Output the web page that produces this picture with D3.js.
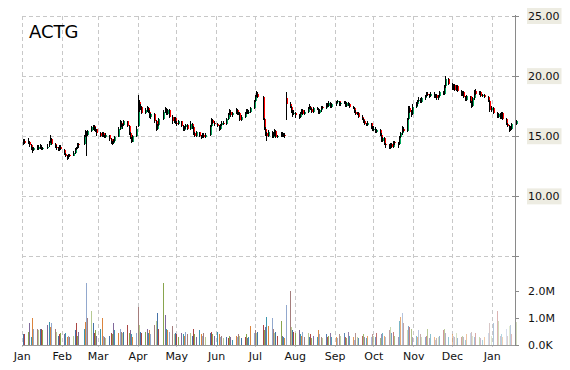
<!DOCTYPE html>
<html><head><meta charset="utf-8">
<script src="https://cdn.jsdelivr.net/npm/d3@7"></script>
<style>body{margin:0;background:#fff}svg{display:block}</style>
</head><body>
<svg id="chart" width="570" height="370"></svg>
<script>
const ticker = "ACTG";
const firstDay = "2014-01-02";
const lastDay = "2015-01-20";
const holidays = ["2014-01-20","2014-02-17","2014-04-18","2014-05-26","2014-07-04","2014-09-01","2014-11-27","2014-12-25","2015-01-01","2015-01-19"];
// [open, high, low, close] per trading day
const ohlc = [
// Jan
[14.3,14.7,14.2,14.5],[14.6,14.7,14.3,14.4],[14.4,14.8,14.3,14.6],[14.5,14.6,14.1,14.2],[14.2,14.3,13.8,14.0],
[14.0,14.1,13.6,13.8],[13.8,14.1,13.7,14.0],[14.1,14.2,13.8,13.9],[13.9,14.2,13.8,14.1],[14.0,14.3,13.9,14.2],
[14.1,14.2,13.8,13.9],[13.9,14.1,13.8,14.0],
[14.0,14.3,13.9,14.1],[14.2,14.6,14.1,14.5],[14.4,15.1,14.4,14.8],[14.7,14.8,14.2,14.3],
[14.3,14.4,14.0,14.1],[14.1,14.2,13.8,14.0],[14.0,14.1,13.7,13.8],[13.8,14.2,13.7,14.1],[14.1,14.2,13.8,13.9],
// Feb
[13.8,13.9,13.4,13.5],[13.5,13.6,13.2,13.3],[13.3,13.4,13.0,13.2],[13.2,13.5,13.1,13.4],[13.4,13.5,13.2,13.3],
[13.3,13.7,13.3,13.6],[13.6,14.0,13.5,13.9],[13.9,14.1,13.8,14.0],[14.0,14.4,13.9,14.3],[14.3,14.4,14.0,14.2],
[14.3,15.1,14.2,15.0],[15.0,15.5,14.9,15.3],[15.3,15.4,13.3,15.1],[15.1,15.5,15.0,15.4],
[15.4,15.8,15.3,15.7],[15.7,15.9,15.5,15.8],[15.8,15.9,15.4,15.5],[15.5,15.7,15.3,15.6],[15.6,15.6,15.0,15.2],
// Mar
[15.2,15.3,14.9,15.0],[15.0,15.3,14.9,15.2],[15.2,15.3,14.9,15.0],[15.0,15.1,14.8,14.9],[14.9,15.2,14.8,15.1],
[15.1,15.1,14.6,14.7],[14.7,14.8,14.3,14.5],[14.5,14.6,14.2,14.4],[14.4,14.7,14.3,14.6],[14.6,15.0,14.5,14.9],
[14.9,15.7,14.9,15.6],[15.6,16.3,15.5,16.1],[16.1,16.2,15.7,15.8],[15.8,16.0,15.6,15.9],[15.9,16.3,15.8,16.2],
[16.2,16.2,15.7,15.8],[15.8,15.9,15.1,15.2],[15.2,15.3,14.7,14.8],[14.8,14.9,14.4,14.5],[14.5,15.1,14.5,15.0],
[15.0,15.8,14.9,15.6],
// Apr
[15.8,18.4,15.7,17.8],[17.8,18.0,17.0,17.2],[17.2,17.6,17.1,17.4],[17.4,17.5,16.8,16.9],
[16.9,17.3,16.8,17.1],[17.1,17.5,17.0,17.3],[17.3,17.4,16.9,17.0],[17.0,17.1,16.5,16.6],[16.6,16.9,16.4,16.8],
[16.8,16.9,16.1,16.2],[16.2,16.3,15.4,15.6],[15.6,16.0,15.5,15.9],[15.9,16.5,15.8,16.4],
[16.4,17.1,16.3,17.0],[17.0,17.4,16.9,17.2],[17.2,17.3,16.7,16.8],[16.8,17.2,16.7,17.1],[17.1,17.2,16.5,16.6],
[16.6,16.7,16.0,16.2],[16.2,16.6,16.1,16.5],[16.5,16.6,16.0,16.1],
// May
[16.1,16.2,15.8,16.0],[16.0,16.3,15.9,16.2],
[16.2,16.2,15.7,15.8],[15.8,15.9,15.4,15.5],[15.5,15.8,15.4,15.7],[15.7,16.0,15.6,15.9],[15.9,16.0,15.5,15.6],
[15.6,16.2,15.5,16.0],[16.0,16.1,15.6,15.7],[15.7,15.8,15.1,15.2],[15.2,15.3,14.9,15.0],[15.0,15.4,14.9,15.3],
[15.3,15.3,14.9,15.0],[15.0,15.1,14.7,14.9],[14.9,15.2,14.8,15.1],[15.1,15.2,14.8,14.9],[14.9,15.2,14.8,15.1],
[15.1,15.9,15.0,15.8],[15.8,16.5,15.7,16.3],[16.3,16.4,16.0,16.1],[16.1,16.2,15.8,16.0],
// Jun
[16.0,16.1,15.7,15.8],[15.8,15.9,15.4,15.6],[15.6,16.0,15.5,15.9],[15.9,16.2,15.8,16.1],[16.1,16.2,15.9,16.0],
[16.0,16.5,15.9,16.4],[16.4,16.9,16.3,16.8],[16.8,17.2,16.7,17.0],[17.0,17.1,16.6,16.7],[16.7,17.0,16.6,16.9],
[16.9,17.3,16.8,17.1],[17.1,17.2,16.7,16.8],[16.8,17.0,16.7,16.9],[16.9,17.0,16.2,16.3],[16.3,16.7,16.2,16.6],
[16.6,17.0,16.5,16.9],[16.9,17.2,16.8,17.1],[17.1,17.2,16.8,16.9],[16.9,17.1,16.8,17.0],[17.0,17.4,16.9,17.3],
[17.3,18.0,17.2,17.9],
// Jul
[17.9,18.4,17.8,18.3],[18.3,18.7,18.2,18.5],[18.5,18.6,18.1,18.2],
[18.2,18.3,16.3,16.4],[16.4,16.5,15.5,15.6],[15.6,15.7,15.0,15.2],[15.2,15.3,14.6,15.0],[15.0,15.5,14.9,15.3],
[15.3,15.4,14.8,14.9],[14.9,15.3,14.8,15.1],[15.1,15.6,15.0,15.4],[15.4,15.5,14.8,14.9],[14.9,15.1,14.8,15.0],
[15.0,15.3,14.9,15.2],[15.2,15.3,14.9,15.0],[15.0,15.2,14.9,15.1],[15.1,15.2,14.8,15.0],[18.1,18.6,16.3,17.6],
[17.6,17.8,17.3,17.4],[17.4,17.5,16.9,17.0],[17.0,17.1,16.6,16.8],[16.8,17.1,16.7,16.9],
// Aug
[16.9,17.0,16.5,16.7],
[16.7,16.8,16.4,16.6],[16.6,17.0,16.5,16.9],[16.9,17.2,16.8,17.1],[17.1,17.2,16.7,16.8],[16.8,17.1,16.7,17.0],
[17.0,17.4,16.9,17.3],[17.3,17.6,17.2,17.4],[17.4,17.5,17.1,17.2],[17.2,17.3,16.9,17.0],[17.0,17.4,16.9,17.3],
[17.3,17.4,17.1,17.2],[17.2,17.3,16.8,16.9],[16.9,17.2,16.8,17.1],[17.1,17.5,17.0,17.4],[17.4,17.5,17.2,17.3],
[17.3,17.7,17.2,17.6],[17.6,17.7,17.4,17.5],[17.5,17.9,17.4,17.7],[17.7,17.8,17.3,17.4],[17.4,17.7,17.3,17.6],
// Sep
[17.6,17.9,17.5,17.8],[17.8,18.0,17.7,17.9],[17.9,17.9,17.5,17.6],[17.6,17.8,17.5,17.7],
[17.7,17.9,17.6,17.8],[17.8,17.9,17.4,17.5],[17.5,17.8,17.4,17.7],[17.7,17.8,17.5,17.6],[17.6,17.7,17.3,17.4],
[17.4,17.5,17.2,17.3],[17.3,17.4,16.9,17.0],[17.0,17.1,16.7,16.8],[16.8,17.0,16.7,16.9],[16.9,17.0,16.5,16.6],
[16.6,16.7,16.3,16.4],[16.4,16.5,16.1,16.2],[16.2,16.3,15.9,16.0],[16.0,16.1,15.8,15.9],[15.9,16.2,15.8,16.1],
[16.1,16.1,15.6,15.7],[15.7,15.8,15.4,15.5],
// Oct
[15.5,15.8,15.4,15.6],[15.6,15.7,15.2,15.3],[15.3,15.6,15.2,15.5],
[15.5,15.6,15.0,15.1],[15.1,15.2,14.5,14.6],[14.6,14.9,14.5,14.8],[14.8,14.9,14.2,14.3],[14.3,14.4,14.0,14.2],
[14.2,14.3,13.9,14.0],[14.0,14.4,13.9,14.3],[14.3,14.4,14.0,14.1],[14.1,14.6,14.0,14.5],[14.5,14.6,14.2,14.4],
[14.4,14.5,14.0,14.3],[14.3,15.0,14.2,14.9],[14.9,15.3,14.8,15.2],[15.2,15.8,15.1,15.6],[15.6,15.7,15.3,15.4],
[15.4,16.5,15.3,16.4],[16.4,17.5,16.3,17.3],[17.3,17.5,16.9,17.0],[17.0,17.1,16.6,16.8],[16.8,17.6,16.7,17.4],
// Nov
[17.4,17.8,17.3,17.6],[17.6,18.0,17.5,17.9],[17.9,18.2,17.8,18.0],[18.0,18.1,17.7,17.8],[17.8,18.2,17.7,18.1],
[18.1,18.4,18.0,18.3],[18.3,18.6,18.2,18.5],[18.5,18.6,18.3,18.4],[18.4,18.5,18.1,18.3],[18.3,18.6,18.2,18.5],
[18.5,18.6,18.1,18.2],[18.2,18.5,18.1,18.4],[18.4,18.5,18.0,18.1],[18.1,18.4,18.0,18.3],[18.3,18.7,18.2,18.6],
[18.6,18.7,18.4,18.5],[18.5,19.2,18.4,19.1],[19.1,20.0,19.0,19.7],[19.7,19.8,19.2,19.3],
// Dec
[19.3,19.4,18.8,18.9],[18.9,19.3,18.8,19.2],[19.2,19.3,18.7,18.8],[18.8,19.2,18.7,19.1],[19.1,19.2,18.6,18.7],
[18.7,18.8,18.3,18.4],[18.4,18.7,18.3,18.6],[18.6,18.7,18.1,18.2],[18.2,18.3,17.9,18.0],[18.0,18.4,17.9,18.3],
[18.3,18.3,17.7,17.8],[17.8,17.9,17.3,17.5],[17.5,18.2,17.4,18.1],[18.1,18.8,18.0,18.7],[18.7,18.9,18.4,18.5],
[18.5,18.7,18.4,18.6],[18.6,18.7,18.2,18.3],[18.3,18.5,18.2,18.4],[18.4,18.5,18.1,18.2],
[18.2,18.3,17.8,17.9],[17.9,18.0,17.0,17.1],[17.1,17.5,17.0,17.3],
// Jan 2015
[17.3,17.4,16.8,16.9],
[16.9,17.0,16.5,16.6],[16.6,16.9,16.5,16.8],[16.8,16.9,16.4,16.5],[16.5,17.0,16.4,16.9],[16.9,17.0,16.3,16.4],
[16.4,16.5,15.9,16.0],[16.0,16.1,15.7,15.8],[15.8,15.9,15.3,15.5],[15.5,15.8,15.4,15.6],[15.6,16.1,15.5,16.0],
[16.0,16.3,15.9,16.2]
];
// volume in millions of shares
const volume = [
0.4,0.4, 0.5,0.8,0.3,1.0,0.6, 0.6,0.55,0.6,0.6,0.55, 0.75,0.85,0.65,0.8, 0.6,0.5,0.35,0.4,0.45,
0.4,0.45,0.3,0.35,0.3, 0.35,0.55,0.8,0.35,0.5, 0.6,0.85,2.3,1.0, 1.25,0.8,0.45,0.55,0.35,
0.6,1.0,0.35,0.3,0.25, 0.35,0.45,0.4,0.8,0.55, 0.45,0.6,0.5,0.45,0.5, 0.75,0.45,0.55,0.4,0.3, 0.45,
1.4,0.75,0.5,0.45, 0.5,0.6,0.45,0.55,0.4, 0.75,0.9,1.2,0.6, 2.3,1.1,0.6,0.55,0.5, 0.7,0.4,0.45,
0.4,0.3, 0.45,0.4,0.35,0.5,0.4, 0.45,0.35,0.6,0.4,0.3, 0.55,0.4,0.35,0.45,0.3, 0.45,0.5,0.4,0.35,
0.5,0.4,0.3,0.35,0.25, 0.3,0.25,0.35,0.3,0.2, 0.35,0.3,0.4,0.35,0.25, 0.3,0.4,0.25,0.3,0.7, 0.45,
0.55,0.45,0.5, 0.75,0.55,0.65,1.05,0.7, 1.0,0.6,0.45,0.5,0.35, 0.9,0.35,0.3,0.25,1.5, 2.0,0.65,0.55,0.5,
0.45, 0.55,0.4,0.35,0.5,0.3, 0.45,0.3,0.4,0.25,0.35, 0.3,0.55,0.4,0.3,0.25, 0.4,0.3,0.35,0.45,0.3,
0.3,0.25,0.4,0.35, 0.45,0.3,0.25,0.5,0.35, 0.3,0.2,0.45,0.3,0.25, 0.35,0.4,0.3,0.25,0.35, 0.3,0.4,
0.35,0.3,0.45, 0.25,0.4,0.45,0.35,0.3, 0.55,0.65,0.45,0.5,0.35, 0.3,0.9,1.05,1.2,0.8, 0.55,0.7,0.65,0.6,0.3,
0.35,0.3,0.55,0.4,0.3, 0.3,0.35,0.6,0.25,0.4, 0.3,0.2,0.25,0.3,0.35, 0.55,0.6,0.45,0.3,
0.4,0.35,0.3,0.45,0.25, 0.3,0.35,0.3,0.2,0.4, 0.45,0.5,0.35,0.3,0.45, 0.3,0.25,0.2,0.3, 0.45,0.8,0.35,
0.8, 1.25,0.9,0.35,0.4,0.3, 0.6,0.35,0.7,0.75,0.4, 0.85
];
const priceTicks = [5, 10, 15, 20, 25];
const priceLabels = [10, 15, 20, 25];
const volumeTicks = [0, 1, 2];
const palette = ['#4572A7','#AA4643','#89A54E','#80699B','#3D96AE','#DB843D','#92A8CD','#A47D7C','#B5CA92'];

(function () {
const parse = d3.utcParse("%Y-%m-%d");
const fmt = d3.utcFormat("%Y-%m-%d");
const hol = new Set(holidays);
const days = d3.utcDay.range(parse(firstDay), d3.utcDay.offset(parse(lastDay), 1))
  .filter(d => d.getUTCDay() !== 0 && d.getUTCDay() !== 6 && !hol.has(fmt(d)));
const data = days.map((d, i) => ({date: d, o: ohlc[i][0], h: ohlc[i][1], l: ohlc[i][2], c: ohlc[i][3], v: volume[i]}));

const svg = d3.select("#chart");
const font = "'DejaVu Sans', Verdana, sans-serif";
svg.append("rect").attr("width", 570).attr("height", 370).attr("fill", "#fff");

const pLeft = 21.7, pRight = 515, pTop = 15.5, priceBottom = 256, volBottom = 345;
const x = d3.scaleUtc().domain([Date.UTC(2014,0,1), Date.UTC(2015,0,19)]).range([pLeft, pRight]);
const yP = d3.scaleLinear().domain([5, 25]).range([priceBottom, pTop]);
const yV = d3.scaleLinear().domain([0, 3.3]).range([volBottom, priceBottom]);
const months = d3.utcMonth.range(Date.UTC(2014,0,1), Date.UTC(2015,0,2));

// grid
const grid = svg.append("g").attr("stroke", "#c8c8c8").attr("stroke-dasharray", "4,3").attr("shape-rendering", "crispEdges");
grid.selectAll(".h").data(priceTicks).join("line")
  .attr("x1", pLeft).attr("x2", pRight)
  .attr("y1", d => Math.round(yP(d)) + 0.5).attr("y2", d => Math.round(yP(d)) + 0.5);
grid.selectAll(".v").data(months).join("line")
  .attr("x1", d => Math.round(x(d)) + 0.5).attr("x2", d => Math.round(x(d)) + 0.5)
  .attr("y1", pTop).attr("y2", volBottom + 2);

// volume bars
const nV = data.length;
svg.append("g").attr("shape-rendering", "crispEdges").selectAll("rect").data(data).join("rect")
  .attr("x", d => Math.round(x(d.date))).attr("width", 1)
  .attr("y", d => yV(d.v)).attr("height", d => yV(0) - yV(d.v))
  .attr("fill", (d, i) => palette[i % palette.length])
  .attr("opacity", (d, i) => i < 146 ? 1 : 1 - 0.65 * (i - 146) / (nV - 146));

// candles
const cg = svg.append("g").attr("shape-rendering", "crispEdges");
const cs = cg.selectAll("g").data(data).join("g");
cs.append("rect")
  .attr("x", d => Math.round(x(d.date)))
  .attr("width", 2)
  .attr("y", d => yP(Math.max(d.o, d.c)))
  .attr("height", d => Math.max(1, Math.abs(yP(d.o) - yP(d.c))))
  .attr("fill", d => d.c >= d.o ? "#00a65a" : "#ff0000");
cs.append("line")
  .attr("x1", d => Math.round(x(d.date)) + 0.5).attr("x2", d => Math.round(x(d.date)) + 0.5)
  .attr("y1", d => yP(d.h)).attr("y2", d => yP(d.l))
  .attr("stroke", "#000").attr("stroke-width", 1);

// x axis
const xa = svg.append("g").attr("transform", `translate(0,${volBottom})`)
  .call(d3.axisBottom(x).tickValues(months).tickFormat(d3.utcFormat("%b")).tickSize(0).tickPadding(7));
xa.select(".domain").attr("stroke", "#9a9a9a").attr("shape-rendering", "crispEdges");
xa.selectAll("text").attr("font-family", font).attr("font-size", "11px").attr("fill", "#111");

// right axis line
svg.append("line").attr("x1", pRight + 0.5).attr("x2", pRight + 0.5).attr("y1", pTop - 0.5).attr("y2", volBottom + 0.5)
  .attr("stroke", "#8a8a8a").attr("shape-rendering", "crispEdges");

const pa = svg.append("g").attr("transform", `translate(${pRight},0)`)
  .call(d3.axisRight(yP).tickValues(priceTicks).tickSize(4).tickPadding(9).tickFormat(d3.format(".2f")));
pa.select(".domain").remove();
pa.selectAll(".tick line").attr("x1", -3).attr("stroke", "#8a8a8a").attr("shape-rendering", "crispEdges");
pa.selectAll(".tick").filter(d => !priceLabels.includes(d)).select("text").remove();
pa.selectAll(".tick text").attr("font-family", font).attr("font-size", "11px").attr("fill", "#111");
pa.selectAll(".tick").filter(d => priceLabels.includes(d)).each(function () {
  const t = d3.select(this).select("text");
  const b = t.node().getBBox();
  d3.select(this).insert("rect", "text").attr("x", b.x - 1).attr("y", -8).attr("width", b.width + 3).attr("height", 16)
    .attr("fill", "#edece2");
});

const va = svg.append("g").attr("transform", `translate(${pRight},0)`)
  .call(d3.axisRight(yV).tickValues(volumeTicks).tickSize(4).tickPadding(9)
    .tickFormat(d => d === 0 ? "0.0K" : d3.format(".1f")(d) + "M"));
va.select(".domain").remove();
va.selectAll(".tick line").attr("stroke", "#8a8a8a").attr("shape-rendering", "crispEdges");
va.selectAll(".tick text").attr("font-family", font).attr("font-size", "11px").attr("fill", "#111");

// title
svg.append("text").attr("x", 29).attr("y", 38).text(ticker)
  .attr("font-family", font).attr("font-size", "18px").attr("fill", "#000");
})();
</script>
</body></html>
